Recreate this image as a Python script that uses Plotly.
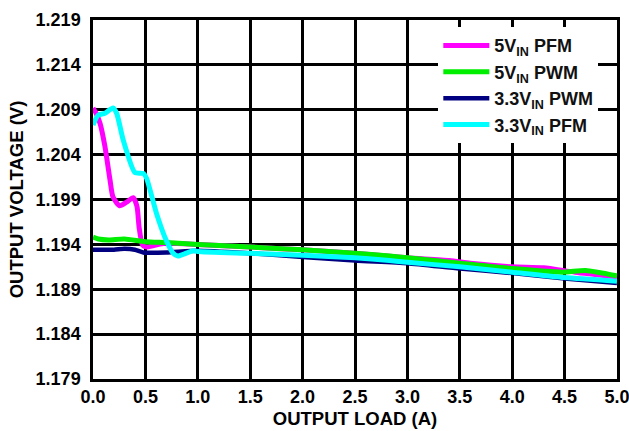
import plotly.graph_objects as go

# ---- data ----
pfm5_x = [0, 0.03, 0.067, 0.114, 0.162, 0.19, 0.254, 0.32, 0.384, 0.42, 0.44, 0.473, 0.51, 0.67,
          1.0, 1.5, 2.0, 2.5, 3.0, 3.4, 3.6, 4.0, 4.3, 4.6, 5.0]
pfm5_y = [1.2092, 1.2086, 1.2075, 1.2049, 1.2012, 1.1993, 1.1983, 1.1987, 1.1992, 1.1982, 1.1959,
          1.1939, 1.1937, 1.1941, 1.1940, 1.1937, 1.1934, 1.1930, 1.1925, 1.1922, 1.1919, 1.1915,
          1.1914, 1.1909, 1.1904]

pwm5_x = [0, 0.05, 0.15, 0.3, 0.5, 0.7, 1.0, 1.5, 2.0, 2.5, 2.83, 3.0, 3.5, 4.0, 4.48, 4.7, 5.0]
pwm5_y = [1.1948, 1.1946, 1.1945, 1.1946, 1.1943, 1.1942, 1.1940, 1.1937, 1.1934, 1.1930, 1.1927,
          1.1925, 1.1919, 1.1913, 1.1909, 1.1911, 1.1905]

pwm33_x = [0, 0.1, 0.2, 0.3, 0.4, 0.48, 0.7, 1.0, 1.5, 2.0, 2.5, 3.0, 3.5, 4.0, 4.5, 5.0]
pwm33_y = [1.1934, 1.1934, 1.1934, 1.1935, 1.1934, 1.1931, 1.1931, 1.1933, 1.1930, 1.1926, 1.1922,
           1.1919, 1.1913, 1.1908, 1.1902, 1.1897]

pfm33_x = [0, 0.05, 0.114, 0.19, 0.226, 0.289, 0.4, 0.48, 0.51, 0.607, 0.686, 0.765, 0.81, 0.955,
           1.0, 1.5, 2.0, 2.5, 2.83, 3.0, 3.5, 4.0, 4.5, 5.0]
pfm33_y = [1.2073, 1.2084, 1.2086, 1.2092, 1.2086, 1.2056, 1.2020, 1.2019, 1.2014, 1.1974, 1.1948,
           1.1930, 1.1927, 1.1933, 1.1932, 1.1930, 1.1928, 1.1925, 1.1922, 1.1920, 1.1915, 1.1909,
           1.1903, 1.1899]

x_ticks = [0.0, 0.5, 1.0, 1.5, 2.0, 2.5, 3.0, 3.5, 4.0, 4.5, 5.0]
y_ticks = [1.179, 1.184, 1.189, 1.194, 1.199, 1.204, 1.209, 1.214, 1.219]

series = [
    ("5V<sub>IN</sub> PFM", pfm5_x, pfm5_y, "#FF00FF", 5),
    ("5V<sub>IN</sub> PWM", pwm5_x, pwm5_y, "#00EE00", 5),
    ("3.3V<sub>IN</sub> PWM", pwm33_x, pwm33_y, "#000080", 4.5),
    ("3.3V<sub>IN</sub> PFM", pfm33_x, pfm33_y, "#00FFFF", 5),
]

font_family = "Liberation Sans, Arial, sans-serif"
bold = dict(family=font_family, color="black", weight="bold")

fig = go.Figure()
for name, xs, ys, col, w in series:
    fig.add_trace(go.Scatter(x=xs, y=ys, mode="lines", name=name,
                             line=dict(color=col, width=w, shape="spline", smoothing=0.6)))

fig.update_layout(
    width=629, height=431,
    margin=dict(l=93, r=12, t=20, b=52, autoexpand=False),
    paper_bgcolor="white", plot_bgcolor="white",
    font=dict(size=18, **bold),
    legend=dict(x=0.659, y=0.98, xanchor="left", yanchor="top",
                bgcolor="white", borderwidth=0, itemwidth=46,
                font=dict(size=18, family=font_family, color="#111", weight="bold"),
                tracegroupgap=0),
    showlegend=True,
)
fig.update_xaxes(
    range=[0, 5], tickvals=x_ticks, ticktext=[f"{v:.1f}" for v in x_ticks],
    showgrid=True, gridcolor="black", gridwidth=2.5,
    showline=True, linecolor="black", linewidth=2.5, mirror=True,
    ticks="", zeroline=False, automargin=False, ticklabeloverflow="allow",
    tickfont=dict(size=18, **bold),
    title=dict(text="OUTPUT LOAD (A)", font=dict(size=18.5, **bold), standoff=6),
)
fig.update_yaxes(
    range=[1.179, 1.219], tickvals=y_ticks, ticktext=[f"{v:.3f}" for v in y_ticks],
    showgrid=True, gridcolor="black", gridwidth=2.5,
    showline=True, linecolor="black", linewidth=2.5, mirror=True,
    ticks="", zeroline=False, ticklabelstandoff=6, automargin=False,
    ticklabeloverflow="allow",
    tickfont=dict(size=18, **bold),
    title=dict(text="OUTPUT VOLTAGE (V)", font=dict(size=18.5, **bold), standoff=8),
)

fig.write_html("out.html")
